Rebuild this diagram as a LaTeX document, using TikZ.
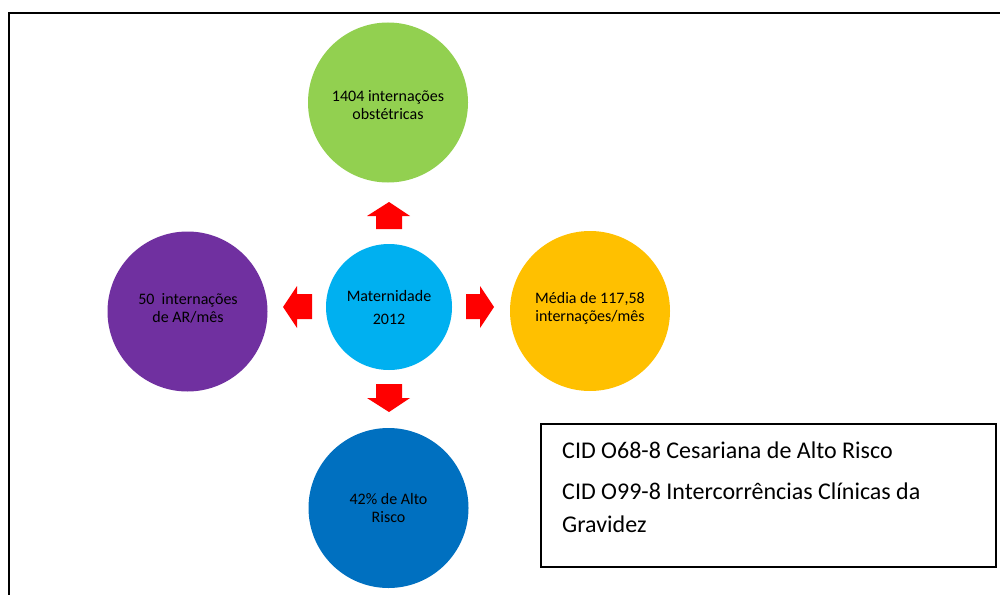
\documentclass[tikz,border=0pt]{standalone}
\usepackage{fontspec}
\setmainfont{Carlito}
\definecolor{cgreen}{HTML}{92D050}
\definecolor{ccyan}{HTML}{00B0F0}
\definecolor{cpurple}{HTML}{7030A0}
\definecolor{corange}{HTML}{FFC000}
\definecolor{cblue}{HTML}{0070C0}
\definecolor{cred}{HTML}{FF0000}
\begin{document}
\begin{tikzpicture}[x=1pt,y=-1pt,
  bubble/.style={circle,fill=#1,minimum size=160pt,inner sep=0pt},
  btext/.style={align=center,inner sep=0pt,font=\fontsize{16}{18}\selectfont,text=black},
  blockarrow/.style={fill=cred,draw=none},
  boxtext/.style={anchor=base west,inner sep=0pt,font=\fontsize{24}{28}\selectfont}]
\useasboundingbox (0,0) rectangle (1000,594);
\fill[white] (0,0) rectangle (1000,594);
\draw[line width=2.5pt] (9,640) -- (9,13) -- (1040,13);
% circles
\node[bubble=cgreen] (green) at (388,102.5) {};
\node[btext] (greent) at (388,105) {1404 internações\\obstétricas};
\node[bubble=ccyan,minimum size=126pt] (center) at (389,307) {};
\node[btext,font=\fontsize{16}{23}\selectfont] (centert) at (389,307) {Maternidade\\2012};
\node[bubble=cpurple] (purple) at (187.5,311.5) {};
\node[btext] (purplet) at (188,308) {50\ \ internações\\de AR/mês};
\node[bubble=corange] (orange) at (590,311) {};
\node[btext] (oranget) at (590,308) {Média de 117,58\\internações/mês};
\node[bubble=cblue] (blue) at (388.5,508) {};
\node[btext] (bluet) at (388.5,508) {42\% de Alto\\Risco};
% block arrows
\fill[blockarrow] (389,202) -- (410,216) -- (402,216) -- (402,229) -- (376,229) -- (376,216) -- (367,216) -- cycle;
\fill[blockarrow] (389,412) -- (410,398) -- (402,398) -- (402,384) -- (376,384) -- (376,398) -- (367,398) -- cycle;
\fill[blockarrow] (494,307) -- (480,286) -- (480,294) -- (466,294) -- (466,319) -- (480,319) -- (480,328) -- cycle;
\fill[blockarrow] (283,307) -- (297,286) -- (297,294) -- (312,294) -- (312,319) -- (297,319) -- (297,328) -- cycle;
% text box
\draw[line width=1.5pt] (541,424) rectangle (996,567);
\node[boxtext] (t1) at (562,458) {CID O68-8 Cesariana de Alto Risco};
\node[boxtext] (t2) at (562,499) {CID O99-8 Intercorrências Clínicas da};
\node[boxtext] (t3) at (562,532) {Gravidez};
\end{tikzpicture}
\end{document}
